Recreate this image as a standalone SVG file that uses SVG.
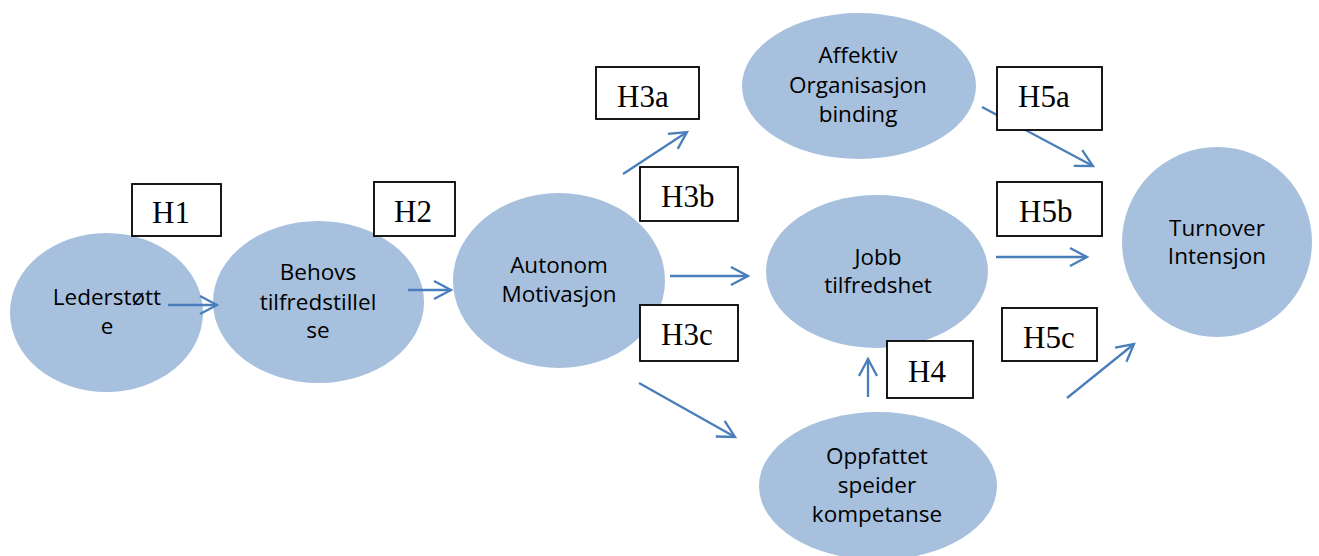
<svg xmlns="http://www.w3.org/2000/svg" width="1319" height="556" viewBox="0 0 1319 556">
  <style>
    .node ellipse { fill: #a7c0de; }
    .node text { font-family: "Open Sans", "Liberation Sans", sans-serif; font-size: 22.5px; fill: #000; text-anchor: middle; }
    .label rect { fill: #fff; stroke: #000; stroke-width: 1.8; }
    .label text { font-family: "Liberation Serif", "Times New Roman", serif; font-size: 31px; fill: #000; }
    #connectors line { stroke: #4a7ebb; stroke-width: 2.3; fill: none; marker-end: url(#open-arrow); }
  </style>
  <defs>
    <marker id="open-arrow" markerUnits="userSpaceOnUse" viewBox="-22 -12 26 24" markerWidth="26" markerHeight="24" refX="0" refY="0" orient="auto" overflow="visible">
      <path d="M-17,-9 L0,0 L-17,9" fill="none" stroke="#4a7ebb" stroke-width="2.3"/>
    </marker>
  </defs>

  <!-- constructs -->
  <g id="lederstotte" class="node">
    <ellipse cx="106.5" cy="312.5" rx="96.5" ry="79.5"/>
    <text x="107" y="305">Lederstøtt</text>
    <text x="107" y="334">e</text>
  </g>
  <g id="behovs" class="node">
    <ellipse cx="318.5" cy="302" rx="105.5" ry="81"/>
    <text x="318" y="280">Behovs</text>
    <text x="318" y="310">tilfredstillel</text>
    <text x="318" y="338">se</text>
  </g>
  <g id="autonom" class="node">
    <ellipse cx="559" cy="280.5" rx="106" ry="87.5"/>
    <text x="559" y="273">Autonom</text>
    <text x="559" y="302">Motivasjon</text>
  </g>
  <g id="affektiv" class="node">
    <ellipse cx="859" cy="86" rx="117" ry="73"/>
    <text x="858" y="63">Affektiv</text>
    <text x="858" y="93">Organisasjon</text>
    <text x="858" y="122">binding</text>
  </g>
  <g id="jobb" class="node">
    <ellipse cx="877" cy="271.5" rx="111" ry="76.5"/>
    <text x="878" y="265">Jobb</text>
    <text x="878" y="293">tilfredshet</text>
  </g>
  <g id="oppfattet" class="node">
    <ellipse cx="878" cy="486" rx="119" ry="74"/>
    <text x="877" y="464">Oppfattet</text>
    <text x="877" y="493">speider</text>
    <text x="877" y="522">kompetanse</text>
  </g>
  <g id="turnover" class="node">
    <ellipse cx="1217" cy="242" rx="95" ry="95"/>
    <text x="1217" y="236">Turnover</text>
    <text x="1217" y="264">Intensjon</text>
  </g>

  <!-- hypothesised paths -->
  <g id="connectors">
    <line x1="168" y1="305" x2="217" y2="305"/>
    <line x1="408" y1="290" x2="451" y2="290"/>
    <line x1="623" y1="174" x2="687" y2="132"/>
    <line x1="670" y1="276" x2="748" y2="276"/>
    <line x1="639" y1="383" x2="735" y2="437"/>
    <line x1="868" y1="397" x2="868" y2="359"/>
    <line x1="982" y1="107" x2="1093" y2="166"/>
    <line x1="996" y1="257" x2="1087" y2="257"/>
    <line x1="1067" y1="398" x2="1134" y2="344"/>
  </g>

  <!-- hypothesis labels -->
  <g id="h1" class="label">
    <rect x="132" y="184" width="89" height="52"/>
    <text x="152" y="223">H1</text>
  </g>
  <g id="h2" class="label">
    <rect x="374" y="182" width="81" height="54"/>
    <text x="394" y="222">H2</text>
  </g>
  <g id="h3a" class="label">
    <rect x="596" y="67" width="103" height="52"/>
    <text x="617" y="107">H3a</text>
  </g>
  <g id="h3b" class="label">
    <rect x="640" y="167" width="98" height="54"/>
    <text x="661" y="207">H3b</text>
  </g>
  <g id="h3c" class="label">
    <rect x="640" y="305" width="98" height="56"/>
    <text x="661" y="345">H3c</text>
  </g>
  <g id="h4" class="label">
    <rect x="887" y="341" width="86" height="57"/>
    <text x="908" y="382">H4</text>
  </g>
  <g id="h5a" class="label">
    <rect x="997" y="67" width="105" height="63"/>
    <text x="1018" y="107">H5a</text>
  </g>
  <g id="h5b" class="label">
    <rect x="997" y="182" width="105" height="54"/>
    <text x="1019" y="222">H5b</text>
  </g>
  <g id="h5c" class="label">
    <rect x="1002" y="308" width="95" height="53"/>
    <text x="1023" y="348">H5c</text>
  </g>
</svg>
